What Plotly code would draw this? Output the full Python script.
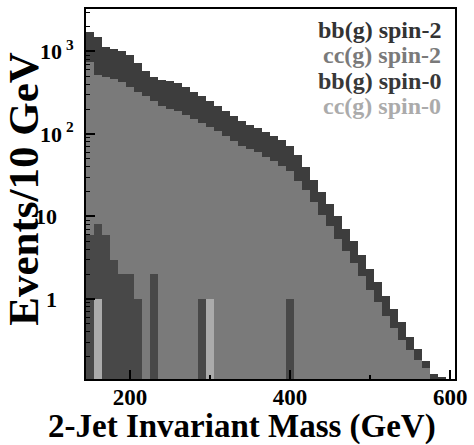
import plotly.graph_objects as go

# Bin centres (GeV), 10 GeV wide bins from 145 to 605
mass_bins = [150, 160, 170, 180, 190, 200, 210, 220, 230, 240,
             250, 260, 270, 280, 290, 300, 310, 320, 330, 340,
             350, 360, 370, 380, 390, 400, 410, 420, 430, 440,
             450, 460, 470, 480, 490, 500, 510, 520, 530, 540,
             550, 560, 570, 580, 590, 600]

# Events / 10 GeV (as drawn, each histogram from the bottom)
bb_spin2 = [1700, 1490, 1130, 1080, 1010, 900, 720, 575, 490, 450,
            440, 420, 375, 327, 285, 248, 216, 189, 164, 145,
            130, 119, 107, 95, 84, 71, 55, 40, 28, 20,
            14, 10.1, 7.1, 5.0, 3.4, 2.3, 1.6, 1.1, 0.76, 0.52,
            0.35, 0.25, 0.175, 0.124, 0.113, None]
cc_spin2 = [745, 520, 490, 465, 430, 375, 327, 285, 248, 216,
            203, 188, 172, 150, 136, 121, 109, 95, 82, 72,
            65, 60, 52, 47.5, 41, 36, 27, 21, 15, 10.5,
            7.6, 5.4, 3.8, 2.7, 1.9, 1.3, 0.91, 0.62, 0.44, 0.32,
            0.24, 0.18, 0.145, None, None, None]
bb_spin0 = [6, 8, 6, 3, 2, 2, 1, None, 2, None,
            None, None, None, None, 1, None, None, None, None, None,
            None, None, None, None, None, 1, None, None, None, None,
            None, None, None, None, None, None, None, None, None, None,
            None, None, None, None, None, None]
cc_spin0 = [None, 1, None, None, None, None, None, None, None, None,
            None, None, None, None, None, 1, None, None, None, None,
            None, None, None, None, None, None, None, None, None, None,
            None, None, None, None, None, None, None, None, None, None,
            None, None, None, None, None, None]

legend_labels = ["bb(g) spin-2", "cc(g) spin-2", "bb(g) spin-0", "cc(g) spin-0"]
bar_colors = ["#3d3d3d", "#7a7a7a", "#484848", "#ababab"]
text_colors = ["#333333", "#7a7a7a", "#383838", "#ababab"]

series = [bb_spin2, cc_spin2, bb_spin0, cc_spin0]

fig = go.Figure()
for name, vals, col in zip(legend_labels, series, bar_colors):
    fig.add_trace(go.Bar(x=mass_bins, y=vals, width=10, name=name,
                         marker=dict(color=col, line=dict(width=0)),
                         showlegend=False))

FONT = "Liberation Serif"

fig.update_layout(
    width=474, height=445,
    margin=dict(l=86, r=15, t=7, b=66),
    paper_bgcolor="white", plot_bgcolor="white",
    barmode="overlay", bargap=0,
    font=dict(family=FONT, color="black", size=22, weight="bold"),
)

fig.update_xaxes(
    range=[145, 606], showgrid=False, zeroline=False,
    showline=True, linecolor="black", linewidth=2, mirror=True,
    tickmode="linear", tick0=0, dtick=200,
    ticks="inside", ticklen=9, tickwidth=1.5, tickcolor="black",
    minor=dict(dtick=100, tick0=0, ticks="inside", ticklen=4, tickwidth=1.5, tickcolor="black"),
    tickfont=dict(family=FONT, size=23, weight="bold"),
    ticklabelstandoff=-4,
)

fig.update_yaxes(
    type="log", range=[-0.97, 3.515], showgrid=False, zeroline=False,
    showline=True, linecolor="black", linewidth=2, mirror=True,
    tickmode="array", tickvals=[1, 10, 100, 1000],
    ticktext=["1\u00a0\u00a0\u00a0", "10\u00a0\u00a0\u00a0", "10<sup> 2</sup>", "10<sup> 3</sup>"],
    ticks="inside", ticklen=9, tickwidth=1.5, tickcolor="black",
    minor=dict(dtick="D1", ticks="inside", ticklen=4, tickwidth=1, tickcolor="black"),
    tickfont=dict(family=FONT, size=22, weight="bold"),
    ticklabelstandoff=6,
)

# Axis titles (pixel positions converted to paper coordinates)
PLOT_L, PLOT_W, PLOT_B, PLOT_H = 86, 373, 379, 372
fig.add_annotation(text="2-Jet Invariant Mass (GeV)", xref="paper", yref="paper",
                   x=(243.5 - PLOT_L) / PLOT_W, y=(PLOT_B - 427) / PLOT_H, showarrow=False,
                   xanchor="center", yanchor="middle",
                   font=dict(family=FONT, size=33, weight="bold", color="black"))
fig.add_annotation(text="Events/10 GeV", xref="paper", yref="paper", textangle=-90,
                   x=(22 - PLOT_L) / PLOT_W, y=(PLOT_B - 188) / PLOT_H, showarrow=False,
                   xanchor="center", yanchor="middle",
                   font=dict(family=FONT, size=43, weight="bold", color="black"))

# Legend as text lines
line_y = [28, 53.5, 79, 104.5]
for lbl, col, py in zip(legend_labels, text_colors, line_y):
    fig.add_annotation(text=lbl, xref="paper", yref="paper",
                       x=(447 - PLOT_L) / PLOT_W, y=(PLOT_B - py) / PLOT_H, showarrow=False,
                       xanchor="right", yanchor="middle",
                       font=dict(family=FONT, size=24, weight="bold", color=col))

fig.write_html("out.html")
